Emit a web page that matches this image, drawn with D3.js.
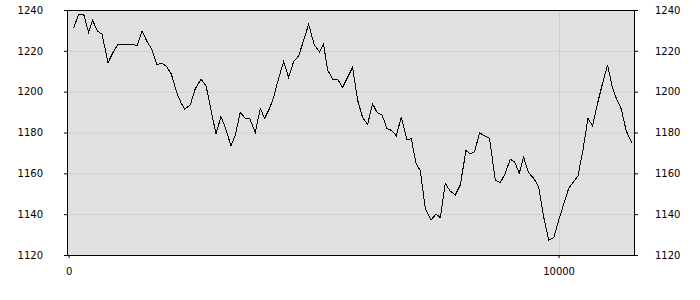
<!DOCTYPE html>
<html>
<head>
<meta charset="utf-8">
<script src="https://cdn.jsdelivr.net/npm/d3@7"></script>
<style>
  body { margin: 0; background: #fff; }
  text { font-family: "DejaVu Sans", sans-serif; font-size: 10px; fill: #000; }
</style>
</head>
<body>
<div id="chart"></div>
<script>
// data
const xValues = [102, 204, 306, 408, 490, 586, 682, 804, 898, 1008,
    1110, 1212, 1327, 1396, 1498, 1600, 1688, 1804, 1892, 1988,
    2094, 2212, 2300, 2367, 2484, 2586, 2702, 2804, 2906, 3008,
    3110, 3198, 3314, 3402, 3504, 3606, 3694, 3810, 3912, 4000,
    4102, 4184, 4286, 4388, 4490, 4592, 4694, 4796, 4898, 5014,
    5122, 5204, 5286, 5388, 5490, 5592, 5694, 5796, 5898, 6000,
    6102, 6204, 6294, 6396, 6498, 6600, 6688, 6790, 6906, 6994,
    7090, 7178, 7280, 7396, 7498, 7586, 7688, 7790, 7892, 7994,
    8110, 8198, 8286, 8388, 8490, 8592, 8708, 8810, 8912, 9014,
    9102, 9198, 9286, 9388, 9490, 9592, 9694, 9800, 9902, 10004,
    10106, 10208, 10306, 10396, 10498, 10600, 10694, 10796, 10898, 11000,
    11102, 11192, 11280, 11382, 11498];
const yValues = [1231, 1238, 1238, 1229, 1235, 1229.7, 1228.2, 1214.2, 1218.8, 1223.3,
    1223.3, 1223.3, 1223.3, 1222.4, 1229.9, 1224.5, 1221.2, 1213.1, 1213.9, 1212.7,
    1208.7, 1199.2, 1194.3, 1191.5, 1193.5, 1201.5, 1206, 1203, 1191, 1179.3,
    1187.8, 1182.5, 1173.4, 1178.8, 1189.9, 1187, 1187, 1180, 1191.8, 1187,
    1191.8, 1197.2, 1206.5, 1214.7, 1207, 1214.7, 1217.5, 1225, 1233, 1222.9,
    1219.5, 1223.2, 1210.6, 1206.2, 1206.2, 1202.1, 1207, 1211.9, 1195.9, 1187.3,
    1184, 1194, 1189.9, 1188.6, 1182, 1180.9, 1178.4, 1187.7, 1176.3, 1177.1,
    1164.9, 1161.3, 1142.9, 1137.1, 1140.1, 1138.3, 1155, 1151.3, 1149.4, 1154.3,
    1171.1, 1169.5, 1170.6, 1179.9, 1178.3, 1177.1, 1156.7, 1155.4, 1160, 1166.9,
    1165.7, 1160, 1167.9, 1160.3, 1157.6, 1153.5, 1138.8, 1127.3, 1128.5, 1137.1,
    1145, 1152.7, 1155.9, 1158.7, 1171.4, 1187, 1183.2, 1194.3, 1204.1, 1213.1,
    1201.7, 1195.9, 1191.5, 1180.7, 1175];
const yTicks = [1120, 1140, 1160, 1180, 1200, 1220, 1240];
const xTicks = [0, 10000];

const margin = {top: 10, right: 65, bottom: 45, left: 67},
    width = 700 - margin.left - margin.right,
    height = 300 - margin.top - margin.bottom;

const svg = d3.select("#chart")
    .append("svg")
    .attr("width", 700)
    .attr("height", 300)
    .append("g")
    .attr("transform", `translate(${margin.left},${margin.top})`);

const x = d3.scaleLinear()
    .domain([-33, 11560])
    .range([0, width]);
const y = d3.scaleLinear()
    .domain([1120, 1240])
    .range([height, 0]);

// plot background
svg.append("rect")
    .attr("width", width)
    .attr("height", height)
    .attr("fill", "#e0e0e0");

// grid
svg.append("g")
    .selectAll("line")
    .data(yTicks.slice(1, -1))
    .join("line")
    .attr("x1", 0).attr("x2", width)
    .attr("y1", d => y(d) + 0.5).attr("y2", d => y(d) + 0.5)
    .attr("stroke", "#cfcfcf");
svg.append("g")
    .selectAll("line")
    .data(xTicks.filter(d => d > 0))
    .join("line")
    .attr("x1", d => Math.round(x(d)) + 0.5).attr("x2", d => Math.round(x(d)) + 0.5)
    .attr("y1", 0).attr("y2", height)
    .attr("stroke", "#cfcfcf");

// the line (aliased, like the original)
const pts = xValues.map((d, i) => [d, yValues[i]]);
svg.append("path")
    .datum(pts)
    .attr("fill", "none")
    .attr("stroke", "#000")
    .attr("stroke-width", 1)
    .attr("shape-rendering", "crispEdges")
    .attr("d", d3.line()
        .x(d => x(d[0]))
        .y(d => y(d[1])));

// axes
const left = svg.append("g")
    .call(d3.axisLeft(y).tickValues(yTicks).tickFormat(d3.format("d")).tickSize(3).tickPadding(21));
const right = svg.append("g")
    .attr("transform", `translate(${width},0)`)
    .call(d3.axisRight(y).tickValues(yTicks).tickFormat(d3.format("d")).tickSize(3).tickPadding(17));
const bottom = svg.append("g")
    .attr("transform", `translate(0,${height})`)
    .call(d3.axisBottom(x).tickValues(xTicks).tickFormat(d3.format("d")).tickSize(3).tickPadding(10));
[left, right, bottom].forEach(g => {
    g.select(".domain").remove();
    g.selectAll("line").attr("stroke", "#000");
    g.selectAll("text").style("font-family", "'DejaVu Sans', sans-serif").style("font-size", "10px");
});

// frame
svg.append("rect")
    .attr("x", 0.5).attr("y", 0.5)
    .attr("width", width - 1)
    .attr("height", height)
    .attr("fill", "none")
    .attr("stroke", "#000");
</script>
</body>
</html>
